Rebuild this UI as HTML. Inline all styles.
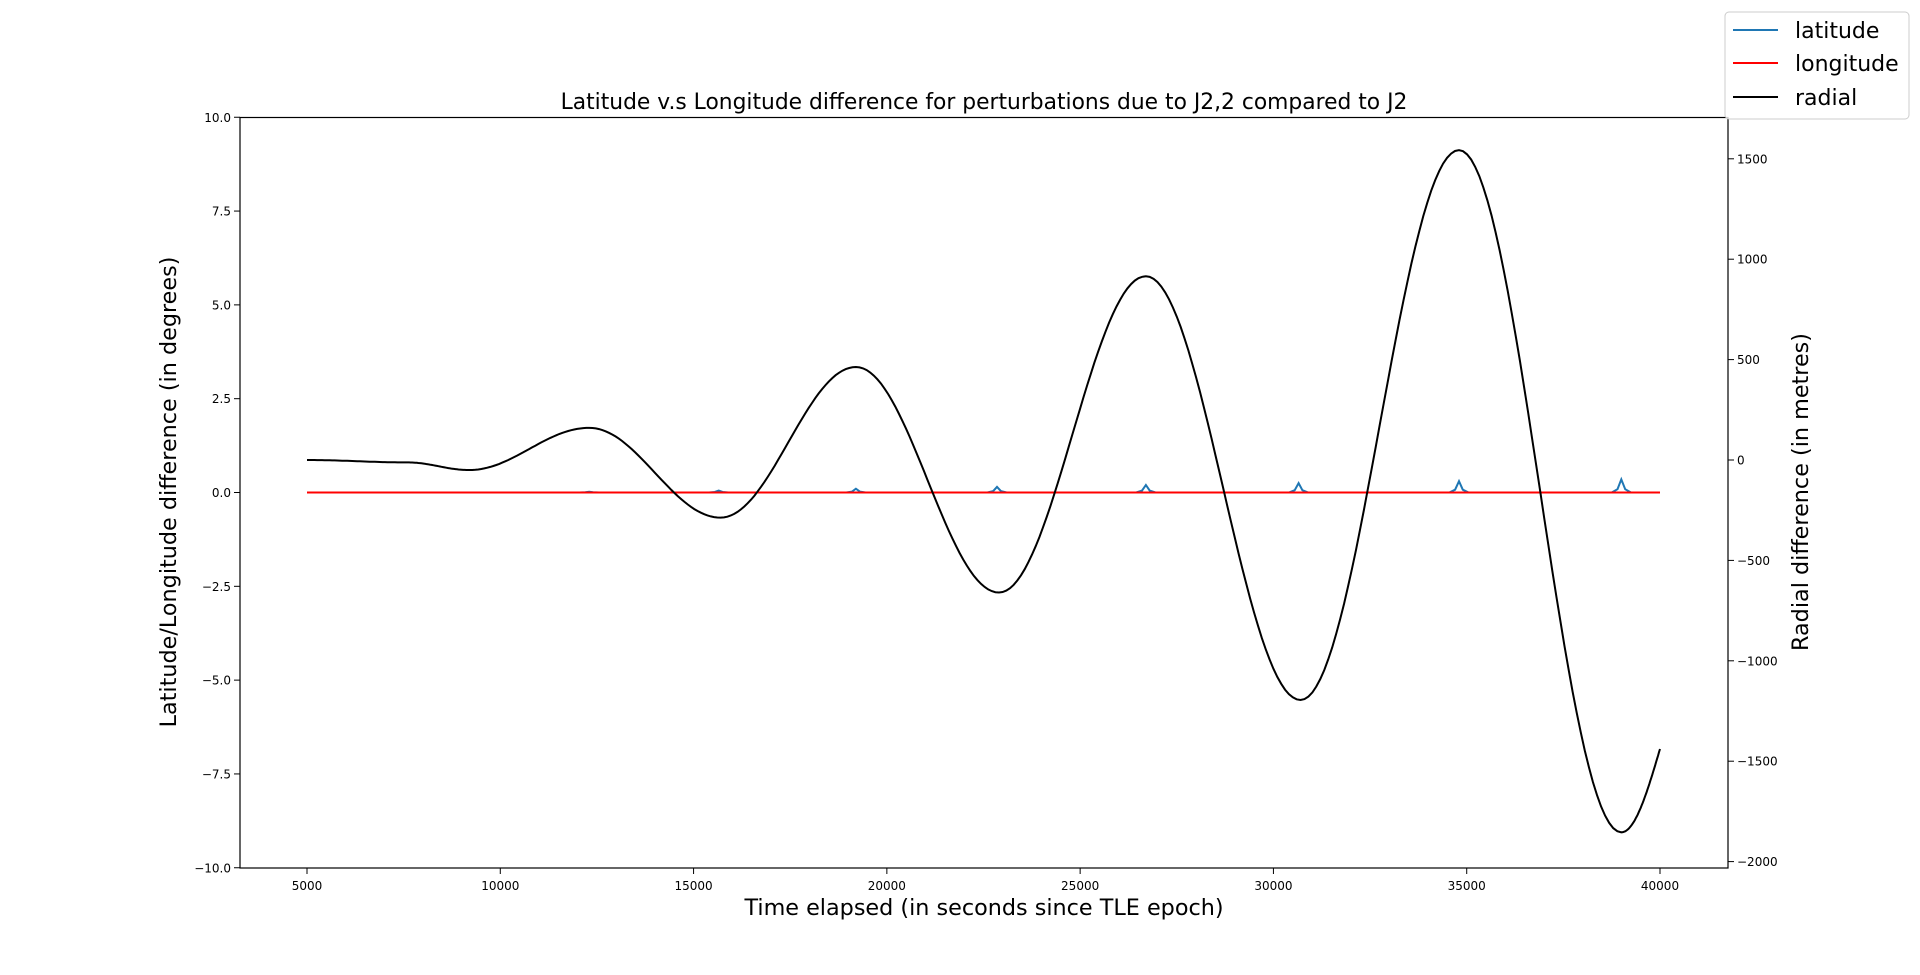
<!DOCTYPE html>
<html><head><meta charset="utf-8"><style>
html,body{margin:0;padding:0;background:#fff;}
svg{display:block;font-family:"DejaVu Sans","Liberation Sans",sans-serif;}
</style></head><body>
<svg id="chart" width="1920" height="975" viewBox="0 0 1920 975">
<g id="marks"></g>
<g id="axes"></g>
</svg>
<script>
const xTicks=[5000,10000,15000,20000,25000,30000,35000,40000];
const leftTicks=[-10.0,-7.5,-5.0,-2.5,0.0,2.5,5.0,7.5,10.0];
const rightTicks=[-2000,-1500,-1000,-500,0,500,1000,1500];
const radialT=[5000,7600,9200,12300,15700,19200,22900,26700,30700,34800,39000,40000];
const radialV=[0,-12,-50,160,-287,463,-660,915,-1195,1543,-1854,-1439];
const spikeT=[12300,15650,19200,22850,26700,30650,34800,39000];
const spikeH=[0.02,0.05,0.1,0.15,0.2,0.25,0.3,0.35];
const lonT=[5000,40000];
const lonV=[0,0];

const L=240,R=1728,T=117.5,B=868;
const xs=t=>307+(t-5000)/35000*(1660-307);
const yl=v=>492.5-v*(750.5/20);
const yr=v=>460-v*(100.4/500);
const NS='http://www.w3.org/2000/svg';
function mk(tag,attrs,parent,txt){const e=document.createElementNS(NS,tag);for(const k in attrs)e.setAttribute(k,attrs[k]);if(txt!==undefined)e.textContent=txt;parent.appendChild(e);return e;}
const marks=document.getElementById('marks'),axes=document.getElementById('axes');

// latitude
let latPts=[[5000,0]];
spikeT.forEach((t,i)=>{latPts.push([t-250,0],[t-100,spikeH[i]*0.25],[t,spikeH[i]],[t+100,spikeH[i]*0.25],[t+250,0]);});
latPts.push([40000,0]);
let d=latPts.map((p,i)=>(i?'L':'M')+xs(p[0]).toFixed(1)+','+yl(p[1]).toFixed(1)).join('');
const lat=mk('path',{d:d,fill:'none',stroke:'#1f77b4','stroke-width':2},marks);


// longitude
d=lonT.map((t,i)=>(i?'L':'M')+xs(t)+','+yl(lonV[i])).join('');
const lon=mk('path',{d:d,fill:'none',stroke:'#ff0000','stroke-width':2},marks);


// radial: half-cosine segments between extrema
d='';
for(let i=0;i<radialT.length-1;i++){
  const t0=radialT[i],t1=radialT[i+1],a=radialV[i],b=radialV[i+1];
  const last=(i===radialT.length-2);
  for(let k=(i?1:0);k<=40;k++){const u=k/40;
    const f=last?(1-Math.cos(Math.PI/2*u)):(1-Math.cos(Math.PI*u))/2;
    const t=t0+(t1-t0)*u,v=a+(b-a)*f;
    d+=(d?'L':'M')+xs(t).toFixed(1)+','+yr(v).toFixed(1);}
}
const rad=mk('path',{d:d,fill:'none',stroke:'#000','stroke-width':2},marks);



// frame
const fr=mk('rect',{x:L,y:T,width:R-L,height:B-T,fill:'none',stroke:'#000','stroke-width':1.2},axes);


xTicks.forEach(t=>{const x=xs(t);mk('line',{x1:x,x2:x,y1:B,y2:B+6,stroke:'#000'},axes);
const e=mk('text',{x:x,y:B+22,'text-anchor':'middle','font-size':12},axes,String(t));

});
leftTicks.forEach(v=>{const y=yl(v);mk('line',{x1:L-6,x2:L,y1:y,y2:y,stroke:'#000'},axes);
const e=mk('text',{x:L-9,y:y+4.5,'text-anchor':'end','font-size':12},axes,(v<0?'\u2212':'')+Math.abs(v).toFixed(1));

});
rightTicks.forEach(v=>{const y=yr(v);mk('line',{x1:R,x2:R+6,y1:y,y2:y,stroke:'#000'},axes);
const e=mk('text',{x:R+9,y:y+4.5,'text-anchor':'start','font-size':12},axes,(v<0?'\u2212':'')+Math.abs(v));

});
</script>
<svg style="position:absolute;left:0;top:0" width="1920" height="975">
<text x="984" y="109" text-anchor="middle" font-size="21.8" font-family="DejaVu Sans, sans-serif">Latitude v.s Longitude difference for perturbations due to J2,2 compared to J2</text>
<text x="984" y="915" text-anchor="middle" font-size="22.3" font-family="DejaVu Sans, sans-serif">Time elapsed (in seconds since TLE epoch)</text>
<text transform="translate(176,492) rotate(-90)" text-anchor="middle" font-size="22.3" font-family="DejaVu Sans, sans-serif">Latitude/Longitude difference (in degrees)</text>
<text transform="translate(1808,492) rotate(-90)" text-anchor="middle" font-size="22.3" font-family="DejaVu Sans, sans-serif">Radial difference (in metres)</text>
<g>
<rect x="1725" y="12" width="184" height="107" rx="4" fill="#fff" fill-opacity="0.8" stroke="#ccc"/>
<line x1="1733" x2="1778" y1="30" y2="30" stroke="#1f77b4" stroke-width="2"/>
<text x="1795" y="38" font-size="22" font-family="DejaVu Sans, sans-serif">latitude</text>
<line x1="1733" x2="1778" y1="63" y2="63" stroke="#ff0000" stroke-width="2"/>
<text x="1795" y="71" font-size="22" font-family="DejaVu Sans, sans-serif">longitude</text>
<line x1="1733" x2="1778" y1="97" y2="97" stroke="#000" stroke-width="2"/>
<text x="1795" y="105" font-size="22" font-family="DejaVu Sans, sans-serif">radial</text>
</g>
</svg>
</body></html>
